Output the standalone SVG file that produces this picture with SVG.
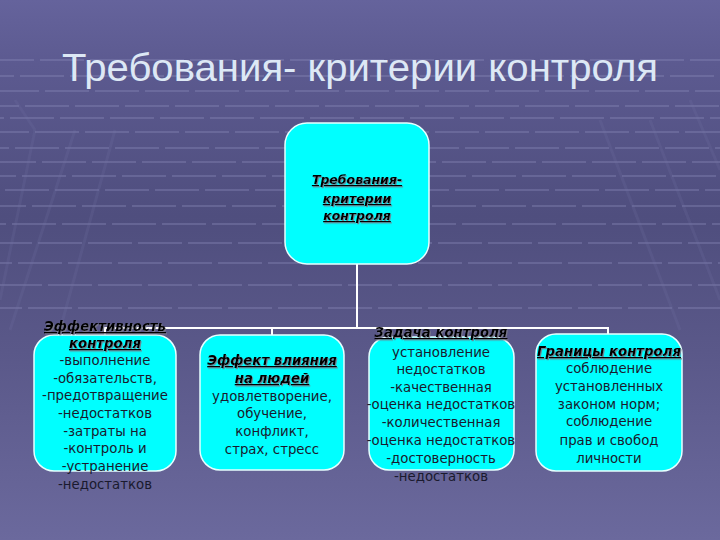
<svg xmlns="http://www.w3.org/2000/svg" width="720" height="540" viewBox="0 0 720 540">
<defs>
<linearGradient id="bg" x1="0" y1="0" x2="0" y2="1">
<stop offset="0" stop-color="#65639c"/>
<stop offset="0.12" stop-color="#5c5a90"/>
<stop offset="0.4" stop-color="#4f4e7e"/>
<stop offset="0.65" stop-color="#5a5889"/>
<stop offset="1" stop-color="#6b699d"/>
</linearGradient>
<filter id="sh" x="-10%" y="-30%" width="130%" height="170%">
<feDropShadow dx="1" dy="1.2" stdDeviation="0.3" flood-color="#7a7a8a" flood-opacity="0.9"/>
</filter>
<style>
.grid{stroke:#8a88b8;stroke-width:2;stroke-opacity:0.38;stroke-dasharray:44 6;fill:none}
.diag{stroke:#7472a6;stroke-width:3;stroke-opacity:0.2;fill:none}
.title{font-family:"Liberation Sans",Arial,sans-serif;font-size:39px;fill:#dde8f5}
.box{fill:#00ffff;stroke:#e6ffff;stroke-width:1.5}
.conn{stroke:#ffffff;stroke-width:2;fill:none}
.t{font-family:"DejaVu Sans",Verdana,sans-serif;font-size:13.3px;fill:#1a1a2e;text-anchor:middle}
.h{font-size:13.3px;font-weight:bold;font-style:italic;text-decoration:underline;fill:#000;filter:url(#sh)}
.hr{font-size:12.5px}
</style>
</defs>
<rect width="720" height="540" fill="url(#bg)"/>
<g id="background-grid">
<line class="grid" x1="0" y1="60" x2="720" y2="60" stroke-dashoffset="10"/>
<line class="grid" x1="0" y1="76" x2="720" y2="76" stroke-dashoffset="30"/>
<line class="grid" x1="0" y1="91" x2="720" y2="91" stroke-dashoffset="5"/>
<line class="grid" x1="0" y1="106" x2="720" y2="106" stroke-dashoffset="25"/>
<line class="grid" x1="0" y1="118" x2="720" y2="118" stroke-dashoffset="40"/>
<line class="grid" x1="0" y1="132" x2="720" y2="132" stroke-dashoffset="15"/>
<line class="grid" x1="0" y1="148" x2="720" y2="148" stroke-dashoffset="35"/>
<line class="grid" x1="0" y1="162" x2="720" y2="162" stroke-dashoffset="8"/>
<line class="grid" x1="0" y1="176" x2="720" y2="176" stroke-dashoffset="28"/>
<line class="grid" x1="0" y1="190" x2="720" y2="190" stroke-dashoffset="45"/>
<line class="grid" x1="0" y1="206" x2="720" y2="206" stroke-dashoffset="18"/>
<line class="grid" x1="0" y1="224" x2="720" y2="224" stroke-dashoffset="38"/>
<line class="grid" x1="0" y1="243" x2="720" y2="243" stroke-dashoffset="12"/>
<line class="grid" x1="0" y1="263" x2="720" y2="263" stroke-dashoffset="32"/>
<line class="grid" x1="0" y1="285" x2="720" y2="285" stroke-dashoffset="2"/>
<line class="grid" x1="0" y1="308" x2="720" y2="308" stroke-dashoffset="22"/>
<line class="diag" x1="15" y1="100" x2="35" y2="130"/>
<line class="diag" x1="35" y1="130" x2="0" y2="300"/>
<line class="diag" x1="75" y1="130" x2="10" y2="330"/>
<line class="diag" x1="115" y1="130" x2="60" y2="330"/>
<line class="diag" x1="600" y1="120" x2="680" y2="330"/>
<line class="diag" x1="650" y1="120" x2="720" y2="300"/>
<line class="diag" x1="690" y1="100" x2="720" y2="170"/>
</g>
<text class="title" x="360" y="81" text-anchor="middle" textLength="596" lengthAdjust="spacingAndGlyphs">Требования- критерии контроля</text>
<g id="connectors">
<line class="conn" x1="357" y1="264" x2="357" y2="328"/>
<line class="conn" x1="104" y1="328" x2="609" y2="328"/>
<line class="conn" x1="105" y1="327" x2="105" y2="336"/>
<line class="conn" x1="272" y1="327" x2="272" y2="336"/>
<line class="conn" x1="441" y1="327" x2="441" y2="338"/>
<line class="conn" x1="608" y1="327" x2="608" y2="336"/>
</g>
<g id="node-root">
<rect class="box" x="285" y="123" width="144" height="141" rx="22"/>
<text class="t h hr" x="357" y="184">Требования-</text>
<text class="t h hr" x="357" y="203">критерии</text>
<text class="t h hr" x="357" y="220"> контроля</text>
</g>
<g id="node-effectiveness">
<rect class="box" x="34" y="335" width="142" height="136" rx="20"/>
<text class="t h" x="105" y="331">Эффективность</text>
<text class="t h" x="105" y="348">контроля</text>
<text class="t" x="105" y="365">-выполнение</text>
<text class="t" x="105" y="383">-обязательств,</text>
<text class="t" x="105" y="400">-предотвращение</text>
<text class="t" x="105" y="418">-недостатков</text>
<text class="t" x="105" y="436">-затраты на</text>
<text class="t" x="105" y="453">-контроль и</text>
<text class="t" x="105" y="471">-устранение</text>
<text class="t" x="105" y="489">-недостатков</text>
</g>
<g id="node-people">
<rect class="box" x="200" y="335" width="144" height="135" rx="20"/>
<text class="t h" x="272" y="365">Эффект влияния</text>
<text class="t h" x="272" y="383">на людей</text>
<text class="t" x="272" y="401">удовлетворение,</text>
<text class="t" x="272" y="418">обучение,</text>
<text class="t" x="272" y="436">конфликт,</text>
<text class="t" x="272" y="454">страх, стресс</text>
</g>
<g id="node-task">
<rect class="box" x="369" y="337" width="145" height="133" rx="20"/>
<text class="t h" x="441" y="337">Задача контроля</text>
<text class="t" x="441" y="357">установление</text>
<text class="t" x="441" y="374">недостатков</text>
<text class="t" x="441" y="392">-качественная</text>
<text class="t" x="441" y="409">-оценка недостатков</text>
<text class="t" x="441" y="427">-количественная</text>
<text class="t" x="441" y="445">-оценка недостатков</text>
<text class="t" x="441" y="463">-достоверность</text>
<text class="t" x="441" y="481">-недостатков</text>
</g>
<g id="node-limits">
<rect class="box" x="536" y="334" width="146" height="137" rx="20"/>
<text class="t h" x="609" y="356">Границы контроля</text>
<text class="t" x="609" y="373">соблюдение</text>
<text class="t" x="609" y="391">установленных</text>
<text class="t" x="609" y="409">законом норм;</text>
<text class="t" x="609" y="426">соблюдение</text>
<text class="t" x="609" y="445">прав и свобод</text>
<text class="t" x="609" y="463">личности</text>
</g>
</svg>
